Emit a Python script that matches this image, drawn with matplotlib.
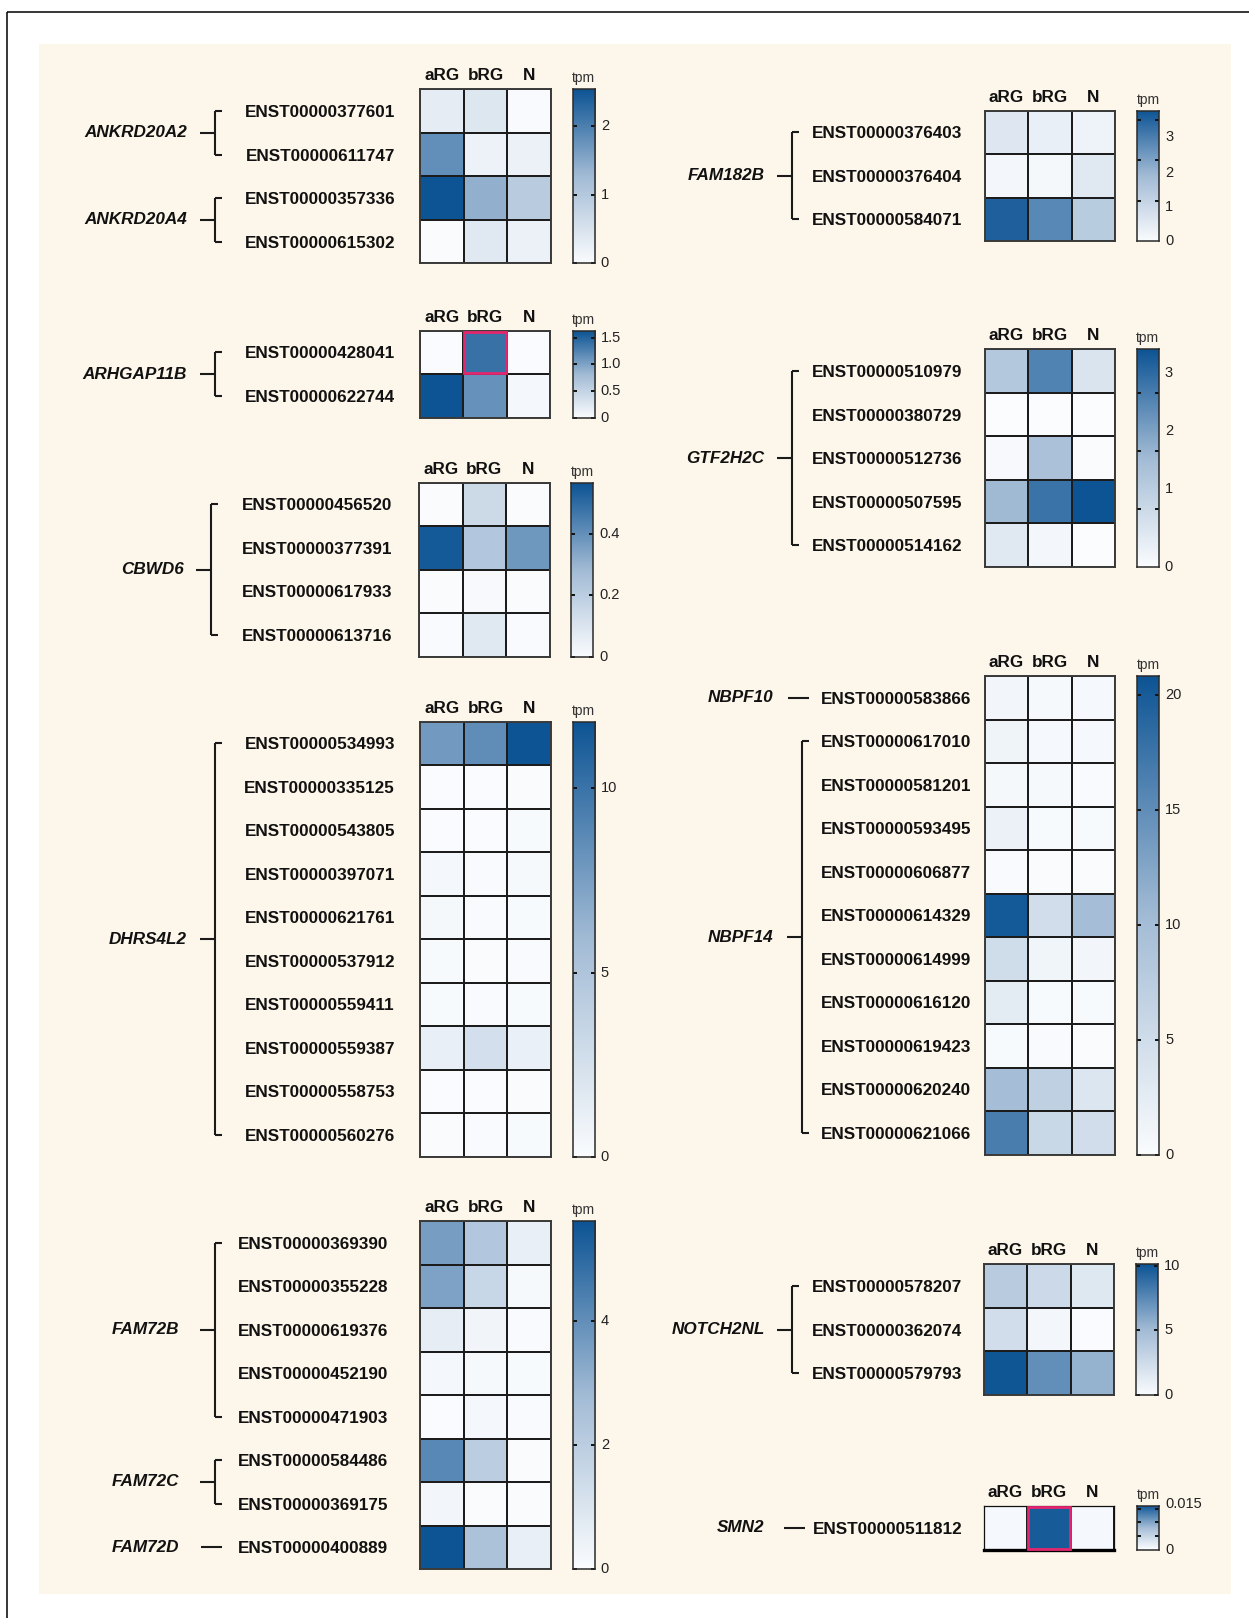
import numpy as np
import matplotlib
matplotlib.use("Agg")
import matplotlib.pyplot as plt
from matplotlib.colors import LinearSegmentedColormap
from matplotlib.patches import Rectangle
from matplotlib.lines import Line2D
from matplotlib.transforms import blended_transform_factory as blend

plt.rcParams["font.family"] = ["Liberation Sans", "DejaVu Sans"]

CELL_TYPES = ["aRG", "bRG", "N"]

# ---------------- expression tables (tpm) ----------------
ankrd_genes = ["ANKRD20A2", "ANKRD20A4"]
ankrd_sizes = [2, 2]
ankrd_ids = ["ENST00000377601", "ENST00000611747", "ENST00000357336", "ENST00000615302"]
ankrd_tpm = [[0.31, 0.42, 0.03],
             [1.80, 0.19, 0.22],
             [2.53, 1.40, 0.95],
             [0.02, 0.38, 0.22]]
ankrd_max = 2.53
ankrd_ticks = [0, 1, 2]
ankrd_ticklabels = ["0", "1", "2"]

arhgap_genes = ["ARHGAP11B"]
arhgap_sizes = [2]
arhgap_ids = ["ENST00000428041", "ENST00000622744"]
arhgap_tpm = [[0.01, 1.40, 0.01],
              [1.63, 1.15, 0.06]]
arhgap_max = 1.63
arhgap_ticks = [0, 0.5, 1.0, 1.5]
arhgap_ticklabels = ["0", "0.5", "1.0", "1.5"]

cbwd_genes = ["CBWD6"]
cbwd_sizes = [4]
cbwd_ids = ["ENST00000456520", "ENST00000377391", "ENST00000617933", "ENST00000613716"]
cbwd_tpm = [[0.006, 0.150, 0.006],
            [0.550, 0.230, 0.380],
            [0.006, 0.012, 0.006],
            [0.008, 0.085, 0.008]]
cbwd_max = 0.566
cbwd_ticks = [0, 0.2, 0.4]
cbwd_ticklabels = ["0", "0.2", "0.4"]

dhrs_genes = ["DHRS4L2"]
dhrs_sizes = [10]
dhrs_ids = ["ENST00000534993", "ENST00000335125", "ENST00000543805", "ENST00000397071",
            "ENST00000621761", "ENST00000537912", "ENST00000559411", "ENST00000559387",
            "ENST00000558753", "ENST00000560276"]
dhrs_tpm = [[7.8, 8.5, 11.8],
            [0.05, 0.05, 0.10],
            [0.05, 0.05, 0.20],
            [0.45, 0.15, 0.30],
            [0.40, 0.15, 0.20],
            [0.20, 0.10, 0.15],
            [0.20, 0.15, 0.20],
            [1.2, 2.6, 1.1],
            [0.05, 0.05, 0.10],
            [0.10, 0.15, 0.20]]
dhrs_max = 11.81
dhrs_ticks = [0, 5, 10]
dhrs_ticklabels = ["0", "5", "10"]

fam72_genes = ["FAM72B", "FAM72C", "FAM72D"]
fam72_sizes = [5, 2, 1]
fam72_ids = ["ENST00000369390", "ENST00000355228", "ENST00000619376", "ENST00000452190",
             "ENST00000471903", "ENST00000584486", "ENST00000369175", "ENST00000400889"]
fam72_tpm = [[3.6, 2.3, 0.55],
             [3.5, 1.6, 0.15],
             [0.65, 0.30, 0.08],
             [0.20, 0.15, 0.10],
             [0.03, 0.20, 0.08],
             [4.2, 2.0, 0.05],
             [0.25, 0.05, 0.05],
             [5.6, 2.5, 0.55]]
fam72_max = 5.61
fam72_ticks = [0, 2, 4]
fam72_ticklabels = ["0", "2", "4"]

fam182_genes = ["FAM182B"]
fam182_sizes = [3]
fam182_ids = ["ENST00000376403", "ENST00000376404", "ENST00000584071"]
fam182_tpm = [[0.52, 0.32, 0.22],
              [0.13, 0.11, 0.48],
              [3.04, 2.42, 1.20]]
fam182_max = 3.23
fam182_ticks = [0, 1, 2, 3]
fam182_ticklabels = ["0", "1", "2", "3"]

gtf_genes = ["GTF2H2C"]
gtf_sizes = [5]
gtf_ids = ["ENST00000510979", "ENST00000380729", "ENST00000512736", "ENST00000507595",
           "ENST00000514162"]
gtf_tpm = [[1.50, 2.90, 0.70],
           [0.01, 0.01, 0.01],
           [0.08, 1.70, 0.04],
           [1.90, 3.20, 3.76],
           [0.55, 0.15, 0.01]]
gtf_max = 3.76
gtf_ticks = [0, 1, 2, 3]
gtf_ticklabels = ["0", "1", "2", "3"]

nbpf_genes = ["NBPF10", "NBPF14"]
nbpf_sizes = [1, 10]
nbpf_ids = ["ENST00000583866", "ENST00000617010", "ENST00000581201", "ENST00000593495",
            "ENST00000606877", "ENST00000614329", "ENST00000614999", "ENST00000616120",
            "ENST00000619423", "ENST00000620240", "ENST00000621066"]
nbpf_tpm = [[0.9, 0.5, 0.6],
            [1.3, 0.6, 0.6],
            [0.7, 0.5, 0.3],
            [1.8, 0.4, 0.4],
            [0.3, 0.2, 0.2],
            [20.2, 4.9, 10.0],
            [5.1, 1.2, 0.9],
            [2.8, 0.4, 0.4],
            [0.4, 0.3, 0.2],
            [10.0, 7.0, 3.6],
            [16.6, 5.8, 4.9]]
nbpf_max = 20.8
nbpf_ticks = [0, 5, 10, 15, 20]
nbpf_ticklabels = ["0", "5", "10", "15", "20"]

notch_genes = ["NOTCH2NL"]
notch_sizes = [3]
notch_ids = ["ENST00000578207", "ENST00000362074", "ENST00000579793"]
notch_tpm = [[3.8, 2.7, 1.6],
             [2.4, 0.4, 0.05],
             [10.0, 7.2, 5.5]]
notch_max = 10.1
notch_ticks = [0, 5, 10]
notch_ticklabels = ["0", "5", "10"]

smn_genes = ["SMN2"]
smn_sizes = [1]
smn_ids = ["ENST00000511812"]
smn_tpm = [[0.0005, 0.0155, 0.0005]]
smn_max = 0.0161
smn_ticks = [0.005, 0.010, 0.015]
smn_ticklabels = ["0", "0.015"]

# ---------------- styling ----------------
W, H, DPI = 1249, 1618, 100
CELL = 43.5
CBAR_W = 22
BEIGE = "#FDF6EA"
HIGHLIGHT = "#E5266F"
CMAP = LinearSegmentedColormap.from_list(
    "tpm_blues", [(0.0, "#FAFCFE"), (0.5, "#A2BBD5"), (1.0, "#0D5494")])

fig = plt.figure(figsize=(W / DPI, H / DPI), dpi=DPI)
fig.patch.set_facecolor("white")

# full-figure canvas in pixel units for the backdrop and frame
bg = fig.add_axes([0, 0, 1, 1])
bg.set_xlim(0, W)
bg.set_ylim(H, 0)
bg.axis("off")
bg.set_zorder(-10)
bg.add_patch(Rectangle((39, 44), 1192, 1550, facecolor=BEIGE, edgecolor="none"))
bg.plot([7.5, W + 5], [12, 12], color="black", lw=1.1, solid_capstyle="butt")
bg.plot([7.5, 7.5], [12, H + 5], color="black", lw=1.1, solid_capstyle="butt")


def px_axes(x, y, w, h):
    return fig.add_axes([x / W, 1 - (y + h) / H, w / W, h / H])


def draw_panel(ids, tpm, genes, sizes, vmax, ticks, ticklabels, lay):
    vals = np.asarray(tpm, dtype=float)
    n = vals.shape[0]
    hh = n * CELL

    ax = px_axes(lay["x"], lay["top"], 3 * CELL, hh)
    ax.set_autoscale_on(False)
    ax.set_xlim(0, 3)
    ax.set_ylim(n, 0)
    ax.pcolormesh(vals, cmap=CMAP, vmin=0, vmax=vmax,
                  edgecolors="#1c1c1c", linewidth=1.1)
    ax.set_xticks(np.arange(3) + 0.5, CELL_TYPES)
    ax.xaxis.tick_top()
    ax.tick_params(axis="x", length=0, pad=4.3, labelsize=12.3, colors="#111")
    ax.set_yticks(np.arange(n) + 0.5, ids)
    ax.tick_params(axis="y", length=0, pad=lay["gap"] * 0.72, labelsize=12.3, colors="#111")
    for t in ax.get_xticklabels() + ax.get_yticklabels():
        t.set_fontweight("bold")
    for s in ax.spines.values():
        s.set_linewidth(1.4)
        s.set_color("#3a3a3a")
    if lay.get("thick_bottom"):
        for side in ("top", "left", "right"):
            ax.spines[side].set_linewidth(0.9)
            ax.spines[side].set_color("#111")
        ax.spines["bottom"].set_linewidth(2.4)
        ax.spines["bottom"].set_color("black")
    if "highlight" in lay:
        r, c = lay["highlight"]
        ax.add_patch(Rectangle((c + 0.02, r + 0.02), 0.96, 0.96, fill=False,
                               edgecolor=HIGHLIGHT, lw=2.0, zorder=5, clip_on=False))

    # gene brackets: x in figure pixels, y in heatmap rows
    tr = blend(bg.transData, ax.transData)
    xb = lay["bx"]
    start = 0
    for gene, k in zip(genes, sizes):
        y0, y1 = start + 0.5, start + k - 0.5
        ym = 0.5 * (y0 + y1)
        if k > 1:
            segs = [([xb, xb], [y0, y1]), ([xb, xb + 7], [y0, y0]),
                    ([xb, xb + 7], [y1, y1]), ([xb - 15, xb], [ym, ym])]
        else:
            segs = [([xb - 14, xb + 7], [ym, ym])]
        for xs, ys in segs:
            ax.add_line(Line2D(xs, ys, transform=tr, color="#1a1a1a", lw=1.5,
                               clip_on=False, solid_capstyle="butt"))
        ax.text(lay["gx"], ym, gene, transform=tr, ha="right", va="center",
                fontsize=12.3, fontweight="bold", style="italic", color="#111")
        start += k

    # colour key
    cax = px_axes(lay["cx"], lay["top"], CBAR_W, hh)
    grad = np.linspace(0, vmax, 256)[:, None]
    cax.imshow(grad, aspect="auto", origin="lower", extent=(0, 1, 0, vmax),
               cmap=CMAP, vmin=0, vmax=vmax)
    cax.set_xlim(0, 1)
    cax.set_ylim(0, vmax)
    cax.set_xticks([])
    cax.set_yticks(ticks)
    cax.tick_params(axis="y", left=True, right=True, direction="in", length=3.2,
                    width=1.4, color="#111", labelleft=False, labelright=False)
    for s in cax.spines.values():
        s.set_linewidth(1.1)
        s.set_color("#2a2a2a")
    label_at = lay.get("label_at", ticks)
    ktr = blend(cax.transAxes, cax.transData)
    for pos, lab in zip(label_at, ticklabels):
        cax.annotate(lab, xy=(1, pos), xycoords=ktr, xytext=(4.5, 0),
                     textcoords="offset points", ha="left", va="center",
                     fontsize=10.5, color="#222", annotation_clip=False)
    cax.set_title("tpm", fontsize=10, pad=5, color="#333")


LEFT_X, LEFT_CB = 420.4, 572.5
RIGHT_X, RIGHT_CB = 984.6, 1137

draw_panel(ankrd_ids, ankrd_tpm, ankrd_genes, ankrd_sizes, ankrd_max,
           ankrd_ticks, ankrd_ticklabels,
           dict(x=LEFT_X, top=89.3, cx=LEFT_CB, gap=25, bx=215, gx=187))
draw_panel(arhgap_ids, arhgap_tpm, arhgap_genes, arhgap_sizes, arhgap_max,
           arhgap_ticks, arhgap_ticklabels,
           dict(x=LEFT_X - 0.5, top=330.7, cx=LEFT_CB, gap=25, bx=215, gx=187,
                highlight=(0, 1)))
draw_panel(cbwd_ids, cbwd_tpm, cbwd_genes, cbwd_sizes, cbwd_max,
           cbwd_ticks, cbwd_ticklabels,
           dict(x=419, top=482.7, cx=571, gap=26.5, bx=211.4, gx=183.7))
draw_panel(dhrs_ids, dhrs_tpm, dhrs_genes, dhrs_sizes, dhrs_max,
           dhrs_ticks, dhrs_ticklabels,
           dict(x=LEFT_X, top=721.7, cx=LEFT_CB, gap=25.4, bx=215.2, gx=186.6))
draw_panel(fam72_ids, fam72_tpm, fam72_genes, fam72_sizes, fam72_max,
           fam72_ticks, fam72_ticklabels,
           dict(x=LEFT_X, top=1221, cx=LEFT_CB, gap=32, bx=215.2, gx=179))

draw_panel(fam182_ids, fam182_tpm, fam182_genes, fam182_sizes, fam182_max,
           [1, 2, 3], fam182_ticklabels,
           dict(x=RIGHT_X, top=110.7, cx=RIGHT_CB, gap=22, bx=792.5, gx=764.6,
                label_at=[0, 0.84, 1.70, 2.57]))
draw_panel(gtf_ids, gtf_tpm, gtf_genes, gtf_sizes, gtf_max,
           [1, 2, 3], gtf_ticklabels,
           dict(x=RIGHT_X, top=349.3, cx=RIGHT_CB - 0.5, gap=22, bx=792.5, gx=764.6,
                label_at=[0, 1.34, 2.35, 3.35]))
draw_panel(nbpf_ids, nbpf_tpm, nbpf_genes, nbpf_sizes, nbpf_max,
           nbpf_ticks, nbpf_ticklabels,
           dict(x=RIGHT_X, top=676.1, cx=RIGHT_CB, gap=13.6, bx=801.6, gx=773.4))
draw_panel(notch_ids, notch_tpm, notch_genes, notch_sizes, notch_max,
           notch_ticks, notch_ticklabels,
           dict(x=RIGHT_X - 1, top=1264.3, cx=RIGHT_CB - 1, gap=21, bx=792.5, gx=764.6))
draw_panel(smn_ids, smn_tpm, smn_genes, smn_sizes, smn_max,
           smn_ticks, smn_ticklabels,
           dict(x=RIGHT_X - 1, top=1506, cx=RIGHT_CB, gap=21, bx=798, gx=764.6,
                highlight=(0, 1), thick_bottom=True, label_at=[0, 0.0168]))

fig.savefig("out.png", dpi=DPI, facecolor="white")
